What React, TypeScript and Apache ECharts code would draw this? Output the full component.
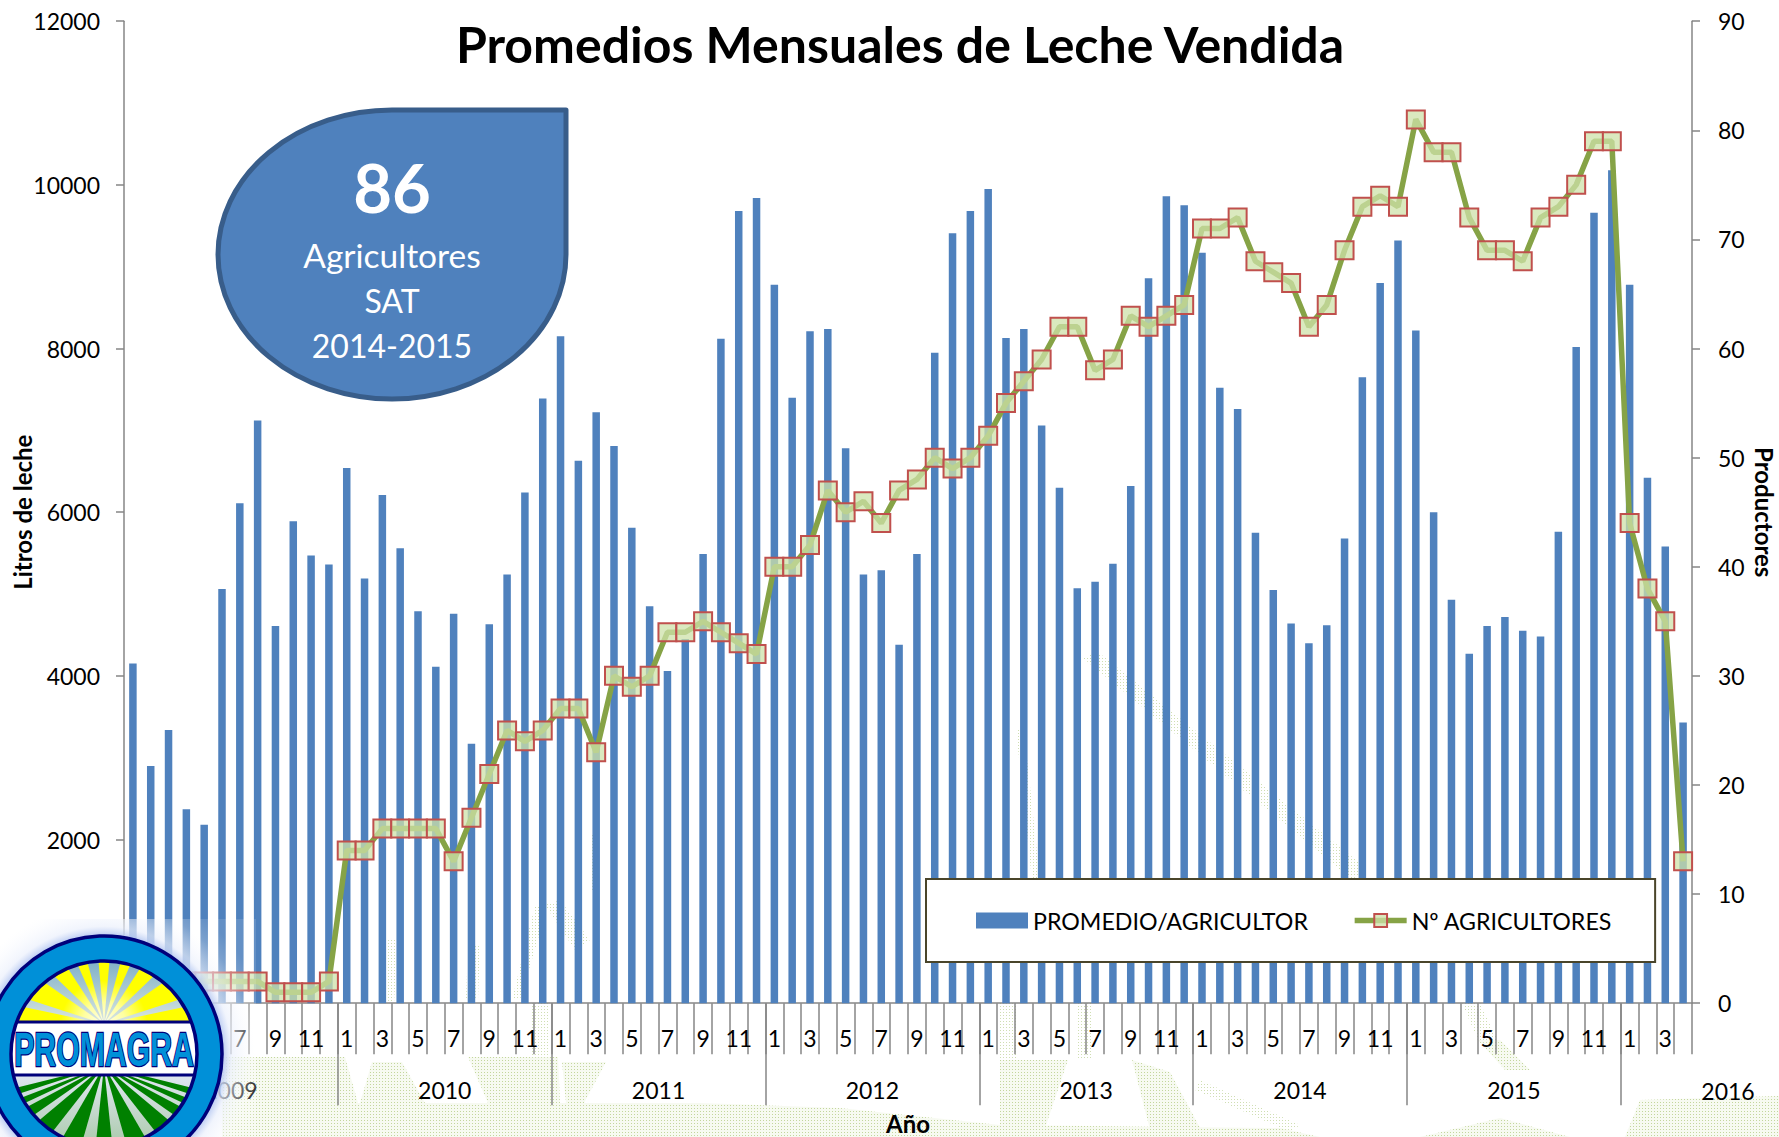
import React, { useEffect, useRef } from "react";
import * as echarts from "echarts";

const FONT = "Lato";

const monthLabels = [
  "1","2","3","4","5","6","7","8","9","10","11","12",
  "1","2","3","4","5","6","7","8","9","10","11","12",
  "1","2","3","4","5","6","7","8","9","10","11","12",
  "1","2","3","4","5","6","7","8","9","10","11","12",
  "1","2","3","4","5","6","7","8","9","10","11","12",
  "1","2","3","4","5","6","7","8","9","10","11","12",
  "1","2","3","4","5","6","7","8","9","10","11","12",
  "1","2","3","4",
];
const yearLabels = ["2009","2010","2011","2012","2013","2014","2015"];
const yearCentres = [6, 18, 30, 42, 54, 66, 78];
const yearBoundaries = [0, 12, 24, 36, 48, 60, 72, 84];
const lastYearLabel = "2016";

const promedio = [
  4150,2900,3340,2370,2180,5060,6110,7120,4610,5890,5470,5360,
  6540,5190,6210,5560,4790,4110,4760,3170,4630,5240,6240,7390,
  8150,6630,7220,6810,5810,4850,4060,4450,5490,8120,9680,9840,
  8780,7400,8210,8240,6780,5240,5290,4380,5490,7950,9410,9680,
  9950,8130,8240,7060,6300,5070,5150,5370,6320,8860,9860,9750,
  9170,7520,7260,5750,5050,4640,4400,4620,5680,7650,8800,9320,
  8220,6000,4930,4270,4610,4720,4550,4480,5760,8020,9660,10180,
  8780,6420,5580,3430,
];
const agricultores = [
  2,2,2,2,2,2,2,2,1,1,1,2,
  14,14,16,16,16,16,13,17,21,25,24,25,
  27,27,23,30,29,30,34,34,35,34,33,32,
  40,40,42,47,45,46,44,47,48,50,49,50,
  52,55,57,59,62,62,58,59,63,62,63,64,
  71,71,72,68,67,66,62,64,69,73,74,73,
  81,78,78,72,69,69,68,72,73,75,79,79,
  44,38,35,13,
];

const GREY = "#868686";
const NAVY = "#00007a";

function dotFill(base: string | null, dot: string) {
  const c = document.createElement("canvas");
  c.width = 3;
  c.height = 3;
  const g = c.getContext("2d");
  if (g) {
    if (base) {
      g.fillStyle = base;
      g.fillRect(0, 0, 3, 3);
    }
    g.fillStyle = dot;
    g.fillRect(1, 1, 1, 1);
  }
  return { image: c.toDataURL(), imageWidth: 3, imageHeight: 3, repeat: "repeat" };
}

const LOGO = { cx: 104, cy: 1054, r: 93, R: 118 };

// end point of a ray from (ax, ay) at angle (degrees from straight up) on the logo disc
function onDisc(ax: number, ay: number, deg: number, down: boolean) {
  const a = (deg * Math.PI) / 180;
  const dx = Math.sin(a);
  const dy = down ? Math.cos(a) : -Math.cos(a);
  const fx = ax - LOGO.cx;
  const fy = ay - LOGO.cy;
  const b = fx * dx + fy * dy;
  const c = fx * fx + fy * fy - LOGO.r * LOGO.r;
  const t = -b + Math.sqrt(b * b - c);
  return [ax + dx * t, ay + dy * t];
}

function logoElements() {
  const { cx, cy, r, R } = LOGO;
  const els: any[] = [];
  const add = (e: any) => {
    els.push({ ...e, z: 60 + els.length * 0.01 });
  };
  const silent = true;
  add({
    type: "rect",
    silent,
    shape: { x: 0, y: 919, width: 256, height: 218 },
    style: {
      fill: {
        type: "radial",
        x: cx,
        y: cy,
        r: 168,
        global: true,
        colorStops: [
          { offset: 0, color: "rgba(255,255,255,1)" },
          { offset: 0.7, color: "rgba(175,195,240,0.95)" },
          { offset: 0.76, color: "rgba(235,240,252,0.7)" },
          { offset: 0.9, color: "rgba(255,255,255,0.25)" },
          { offset: 1, color: "rgba(255,255,255,0.12)" },
        ],
      },
    },
  });
  add({
    type: "circle",
    silent,
    shape: { cx, cy, r },
    style: {
      fill: {
        type: "linear",
        x: 0,
        y: 0,
        x2: 0,
        y2: 1,
        colorStops: [
          { offset: 0, color: "#7fb0c8" },
          { offset: 0.35, color: "#dfe9e0" },
          { offset: 0.5, color: "#ffffff" },
          { offset: 0.62, color: "#dfe6f0" },
          { offset: 1, color: "#a9c9a9" },
        ],
      },
    },
  });
  const sun = { x: cx, y: 1024 };
  const sunFill = {
    type: "radial",
    x: sun.x,
    y: sun.y,
    r: 62,
    global: true,
    colorStops: [
      { offset: 0, color: "#fffff0" },
      { offset: 0.35, color: "#ffffa0" },
      { offset: 0.7, color: "#ffff00" },
      { offset: 1, color: "#ffff00" },
    ],
  };
  const sunRays: [number, number][] = [
    [-5, 5],
    [15, 24],
    [-24, -15],
    [33, 46],
    [-46, -33],
    [55, 72],
    [-72, -55],
    [78, 88],
    [-88, -78],
  ];
  sunRays.forEach(([a, b]) => {
    const p = onDisc(sun.x, sun.y, a, false);
    const q = onDisc(sun.x, sun.y, b, false);
    add({
      type: "polygon",
      silent,
      shape: { points: [[sun.x, sun.y], p, q] },
      style: { fill: sunFill },
    });
  });
  const field = { x: cx, y: 1066 };
  const fieldRays: [number, number][] = [
    [-6, 6],
    [16, 30],
    [-30, -16],
    [38, 50],
    [-50, -38],
    [55, 62],
    [-62, -55],
    [65, 69],
    [-69, -65],
    [72, 76],
    [-76, -72],
  ];
  fieldRays.forEach(([a, b]) => {
    const p = onDisc(field.x, field.y, a, true);
    const q = onDisc(field.x, field.y, b, true);
    add({
      type: "polygon",
      silent,
      shape: { points: [[field.x, field.y], p, q] },
      style: { fill: "#008000" },
    });
  });
  add({
    type: "rect",
    silent,
    shape: { x: 10, y: 1022, width: 188, height: 53 },
    style: { fill: "#ffffff", stroke: NAVY, lineWidth: 3 },
  });
  add({
    type: "text",
    silent,
    x: 104,
    y: 1049,
    scaleX: 0.63,
    style: {
      text: "PROMAGRA",
      x: 0,
      y: 0,
      align: "center",
      verticalAlign: "middle",
      font: 'bold 48px "Liberation Sans"',
      fill: "#0090d8",
      stroke: NAVY,
      lineWidth: 2.5,
    },
  });
  add({
    type: "ring",
    silent,
    shape: { cx, cy, r: R, r0: r },
    style: { fill: "#0090d8" },
  });
  add({
    type: "circle",
    silent,
    shape: { cx, cy, r },
    style: { fill: "none", stroke: NAVY, lineWidth: 3.5 },
  });
  add({
    type: "circle",
    silent,
    shape: { cx, cy, r: R },
    style: { fill: "none", stroke: NAVY, lineWidth: 3.5 },
  });
  return els;
}

function backgroundElements() {
  const dense = dotFill("#f7faf1", "#c3d69c");
  const sparse = dotFill(null, "#cfdeb2");
  const denseShapes: number[][][] = [
    [[222,1103],[700,1103],[840,1108],[1000,1125],[1280,1128],[1320,1137],[222,1137]],
    [[222,1057],[345,1057],[358,1103],[222,1103]],
    [[372,1062],[402,1062],[425,1103],[360,1103]],
    [[468,1057],[558,1057],[560,1103],[488,1103]],
    [[562,1062],[606,1062],[584,1103],[566,1103]],
    [[1000,1060],[1068,1060],[1042,1137],[1000,1137]],
    [[1132,1060],[1170,1072],[1205,1137],[1152,1137]],
    [[1640,1100],[1779,1096],[1779,1137],[1625,1137]],
    [[1420,1137],[1500,1118],[1570,1137]],
    [[1478,1040],[1500,1040],[1530,1070],[1505,1070]],
  ];
  const sparseShapes: number[][][] = [
    [[1083,658],[1098,652],[1366,868],[1352,880]],
    [[1016,730],[1024,730],[1040,880],[1032,880]],
    [[535,905],[548,905],[520,1000],[512,1000]],
    [[378,1003],[394,1003],[398,940],[382,940]],
    [[468,945],[480,945],[478,1000],[466,1000]],
    [[590,835],[600,835],[600,890],[590,890]],
    [[545,905],[560,900],[590,940],[575,950]],
    [[530,1003],[548,1003],[548,1060],[530,1060]],
    [[1000,1003],[1018,1003],[1018,1058],[1000,1058]],
    [[1076,1003],[1092,1003],[1092,1058],[1076,1058]],
    [[1462,1003],[1480,1003],[1500,1045],[1480,1045]],
    [[1200,1080],[1300,1125],[1290,1132],[1195,1090]],
  ];
  return [
    ...denseShapes.map((points) => ({
      type: "polygon",
      silent: true,
      z: -5,
      shape: { points },
      style: { fill: dense },
    })),
    ...sparseShapes.map((points) => ({
      type: "polygon",
      silent: true,
      z: -4,
      shape: { points },
      style: { fill: sparse },
    })),
  ];
}

function calloutElements() {
  echarts.graphic.registerShape(
    "teardropCallout",
    echarts.graphic.extendPath(
      "M 392 110 L 566 110 L 566 254.5 A 174 144.5 0 1 1 392 110 Z",
      {}
    )
  );
  const lines: [string, number, string][] = [
    ["Agricultores", 255, `33.5px ${FONT}`],
    ["SAT", 300, `32px ${FONT}`],
    ["2014-2015", 345, `32px ${FONT}`],
    ["86", 187, `bold 67px ${FONT}`],
  ];
  return [
    {
      type: "teardropCallout",
      silent: true,
      z: 50,
      x: 0,
      y: 0,
      style: { fill: "#4f81bd", stroke: "#385d8a", lineWidth: 5, lineJoin: "round" },
    },
    ...lines.map(([text, y, font]) => ({
      type: "text",
      silent: true,
      z: 51,
      style: {
        text,
        x: 392,
        y,
        align: "center",
        verticalAlign: "middle",
        font,
        fill: "#ffffff",
      },
    })),
  ];
}

export default function App() {
  const ref = useRef<HTMLDivElement>(null);
  useEffect(() => {
    if (!ref.current) return;
    const chart = echarts.init(ref.current, undefined, { renderer: "svg" });
    const axisLine = { show: true, lineStyle: { color: GREY, width: 1.5 } };
    const axisTick = { show: true, length: 8, lineStyle: { color: GREY, width: 1.5 } };
    const label = { color: "#000", fontFamily: FONT, fontSize: 23 };
    const nameStyle = { color: "#000", fontFamily: FONT, fontSize: 24, fontWeight: "bold" as const };
    chart.setOption({
      animation: false,
      backgroundColor: "#ffffff",
      title: {
        text: "Promedios Mensuales de Leche Vendida",
        left: 895,
        top: 14,
        textAlign: "center",
        textStyle: { color: "#000", fontFamily: FONT, fontSize: 50, fontWeight: "bold" },
      },
      grid: {
        left: 124,
        top: 21.2,
        width: 1568,
        height: 982,
        containLabel: false,
        outerBoundsMode: "none",
      },
      legend: {
        left: 926,
        top: 879,
        padding: [30, 43, 30, 50],
        backgroundColor: "#ffffff",
        borderColor: "#4a452a",
        borderWidth: 2,
        itemWidth: 52,
        itemHeight: 16,
        itemGap: 44,
        textStyle: { color: "#000", fontFamily: FONT, fontSize: 23.2 },
        lineStyle: { width: 5.5, color: "#86a346" },
        data: [
          { name: "PROMEDIO/AGRICULTOR", icon: "rect" },
          { name: "Nº AGRICULTORES" },
        ],
      },
      xAxis: [
        {
          type: "category",
          data: monthLabels,
          position: "bottom",
          boundaryGap: true,
          axisLine,
          axisTick: { show: true, interval: 0, length: 51, lineStyle: { color: GREY, width: 1.5 } },
          axisLabel: { ...label, interval: 1, margin: 23 },
          splitLine: { show: false },
        },
        {
          type: "value",
          min: 0,
          max: 88,
          position: "bottom",
          axisLine: { show: false },
          axisTick: {
            show: true,
            length: 102,
            customValues: yearBoundaries,
            lineStyle: { color: GREY, width: 1.5 },
          },
          axisLabel: {
            ...label,
            margin: 75,
            customValues: yearCentres,
            formatter: (v: number) => yearLabels[yearCentres.indexOf(v)] ?? "",
          },
          splitLine: { show: false },
          name: "Año",
          nameLocation: "middle",
          nameGap: 108,
          nameTextStyle: nameStyle,
        },
      ],
      yAxis: [
        {
          type: "value",
          min: 0,
          max: 12000,
          interval: 2000,
          position: "left",
          axisLine,
          axisTick,
          axisLabel: { ...label, margin: 24, formatter: (v: number) => String(v) },
          splitLine: { show: false },
          name: "Litros de leche",
          nameLocation: "middle",
          nameRotate: 90,
          nameGap: 90,
          nameMoveOverlap: false,
          nameTextStyle: nameStyle,
        },
        {
          type: "value",
          min: 0,
          max: 90,
          interval: 10,
          position: "right",
          axisLine,
          axisTick,
          axisLabel: { ...label, margin: 26 },
          splitLine: { show: false },
          name: "Productores",
          nameLocation: "middle",
          nameRotate: -90,
          nameGap: 60,
          nameMoveOverlap: false,
          nameTextStyle: nameStyle,
        },
      ],
      series: [
        {
          name: "PROMEDIO/AGRICULTOR",
          type: "bar",
          xAxisIndex: 0,
          yAxisIndex: 0,
          barWidth: 7.5,
          itemStyle: { color: "#4f81bd" },
          data: promedio,
        },
        {
          name: "Nº AGRICULTORES",
          type: "line",
          xAxisIndex: 0,
          yAxisIndex: 1,
          symbol: "rect",
          symbolSize: 18,
          showAllSymbol: true,
          lineStyle: { color: "#86a346", width: 5.5 },
          itemStyle: { color: "rgba(205,225,170,0.75)", borderColor: "#c0504d", borderWidth: 2 },
          data: agricultores,
        },
      ],
      graphic: {
        elements: [
          ...backgroundElements(),
          ...calloutElements(),
          {
            type: "text",
            silent: true,
            z: 1,
            style: {
              text: lastYearLabel,
              x: 1728,
              y: 1090.7,
              align: "center",
              verticalAlign: "middle",
              font: `23px ${FONT}`,
              fill: "#000",
            },
          },
          ...logoElements(),
        ],
      },
    });
    return () => chart.dispose();
  }, []);
  return (
    <div
      ref={ref}
      style={{ position: "fixed", left: 0, top: 0, width: 1779, height: 1137, background: "#fff" }}
    />
  );
}
